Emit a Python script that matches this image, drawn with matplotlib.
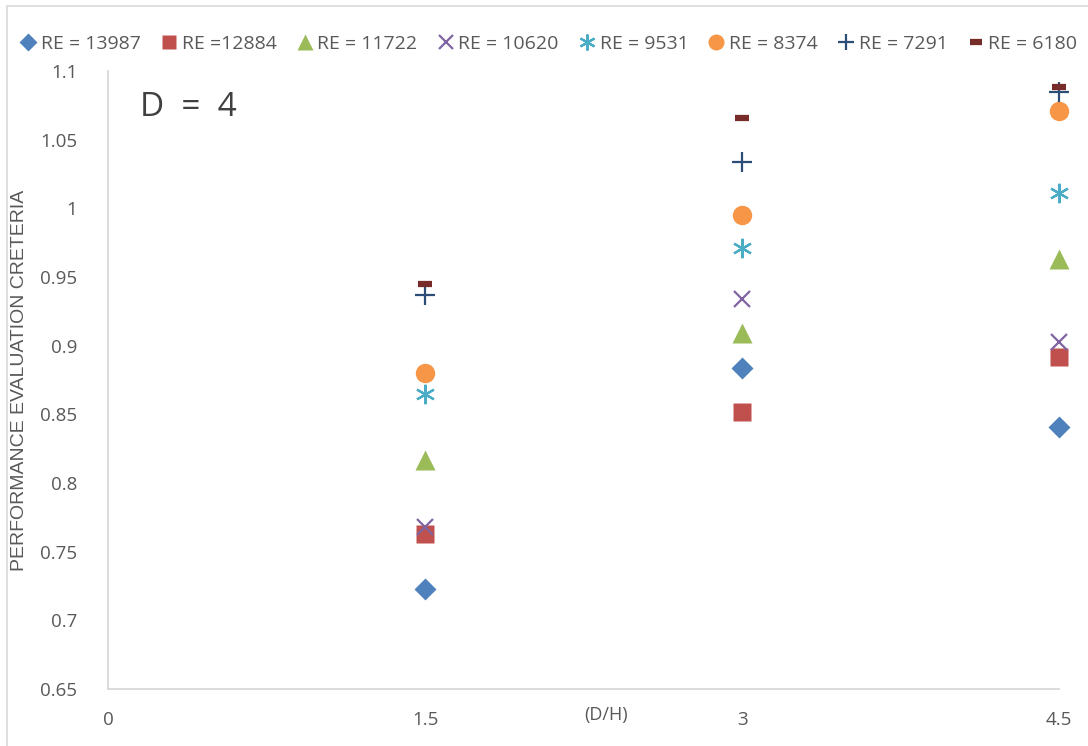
import matplotlib
matplotlib.use("Agg")
import matplotlib.pyplot as plt
from matplotlib.patches import Rectangle
from matplotlib.lines import Line2D

# Ratio D/H at which each Reynolds-number series was measured
dh = [1.5, 3.0, 4.5]

re_labels = ["RE = 13987", "RE =12884", "RE = 11722", "RE = 10620",
             "RE = 9531", "RE = 8374", "RE = 7291", "RE = 6180"]

pec_13987 = [0.723, 0.884, 0.841]
pec_12884 = [0.763, 0.852, 0.892]
pec_11722 = [0.817, 0.909, 0.963]
pec_10620 = [0.768, 0.934, 0.903]
pec_9531 = [0.865, 0.971, 1.011]
pec_8374 = [0.880, 0.995, 1.071]
pec_7291 = [0.937, 1.034, 1.085]
pec_6180 = [0.945, 1.066, 1.088]

series = [pec_13987, pec_12884, pec_11722, pec_10620,
          pec_9531, pec_8374, pec_7291, pec_6180]

x_ticks = [0, 1.5, 3, 4.5]
x_tick_labels = ["0", "1.5", "3", "4.5"]
y_ticks = [0.65, 0.7, 0.75, 0.8, 0.85, 0.9, 0.95, 1.0, 1.05, 1.1]
y_tick_labels = ["0.65", "0.7", "0.75", "0.8", "0.85", "0.9", "0.95", "1", "1.05", "1.1"]

colors = ["#4F81BD", "#C0504D", "#9BBB59", "#8064A2",
          "#4BACC6", "#F79646", "#2C4D75", "#772C2A"]

W, H = 1088, 746
fig = plt.figure(figsize=(W / 100, H / 100), dpi=100)
fig.patch.set_facecolor("white")

# chart-area border
fig.add_artist(Rectangle((7 / W, -0.1), 1.2, (H - 6) / H + 0.1,
                         transform=fig.transFigure, fill=False,
                         edgecolor="#D9D9D9", linewidth=1.2))

ax = fig.add_axes([108 / W, 1 - 689 / H, 951 / W, 618 / H])
ax.set_xlim(0, 4.5)
ax.set_ylim(0.65, 1.1)

# (marker, plot size, legend size, filled, edge width)
styles = [
    ("D", 11, 9, True, 0),
    ("s", 13, 10.5, True, 0),
    ("^", 14, 11.5, True, 0),
    ("x", 12, 10.5, False, 1.6),
    ((6, 2, 0), 14, 11.5, False, 1.6),
    ("o", 14, 11.5, True, 0),
    ("+", 15, 11.5, False, 1.6),
    ("_", 10, 8, False, 4.5),
]

handles = []
for vals, col, (mk, ms, lms, filled, ew) in zip(series, colors, styles):
    if filled:
        kw = dict(markerfacecolor=col, markeredgecolor="none")
    else:
        kw = dict(markeredgecolor=col, markeredgewidth=ew)
    ax.plot(dh, vals, linestyle="none", marker=mk, markersize=ms,
            clip_on=False, zorder=3, **kw)
    handles.append(Line2D([], [], linestyle="none", marker=mk,
                          markersize=lms, **kw))

for side in ("top", "right"):
    ax.spines[side].set_visible(False)
for side in ("left", "bottom"):
    ax.spines[side].set_color("#D9D9D9")
    ax.spines[side].set_linewidth(1.3)

ax.set_xticks(x_ticks)
ax.set_xticklabels(x_tick_labels)
ax.set_yticks(y_ticks)
ax.set_yticklabels(y_tick_labels)
ax.tick_params(axis="both", length=0, colors="#595959", labelsize=13.5)
ax.tick_params(axis="x", pad=16)
ax.tick_params(axis="y", pad=22)
for t in ax.get_xticklabels() + ax.get_yticklabels():
    t.set_fontfamily("Open Sans")
    t.set_color("#595959")

ax.set_xlabel("(D/H)", fontsize=13, color="#595959", family="Open Sans")
ax.xaxis.set_label_coords((606 - 108) / 951, -0.028)
ax.xaxis.label.set_verticalalignment("top")

ax.set_ylabel("PERFORMANCE EVALUATION CRETERIA", fontsize=14,
              color="#595959", family="Liberation Sans")
ax.yaxis.set_label_coords((28 - 108) / 951, 0.5)

ax.text(140 / W, 1 - 107 / H, "D  =  4", transform=fig.transFigure,
        fontsize=24, color="#404040", family="Open Sans",
        ha="left", va="center")

fig.legend(handles, re_labels, loc="center", bbox_to_anchor=(548 / W, 1 - 44 / H),
           ncol=8, frameon=False, handletextpad=0.15, columnspacing=0.95,
           handlelength=1.0, prop={"family": "Open Sans", "size": 14},
           labelcolor="#595959")

fig.savefig("out.png", dpi=100, facecolor="white")
